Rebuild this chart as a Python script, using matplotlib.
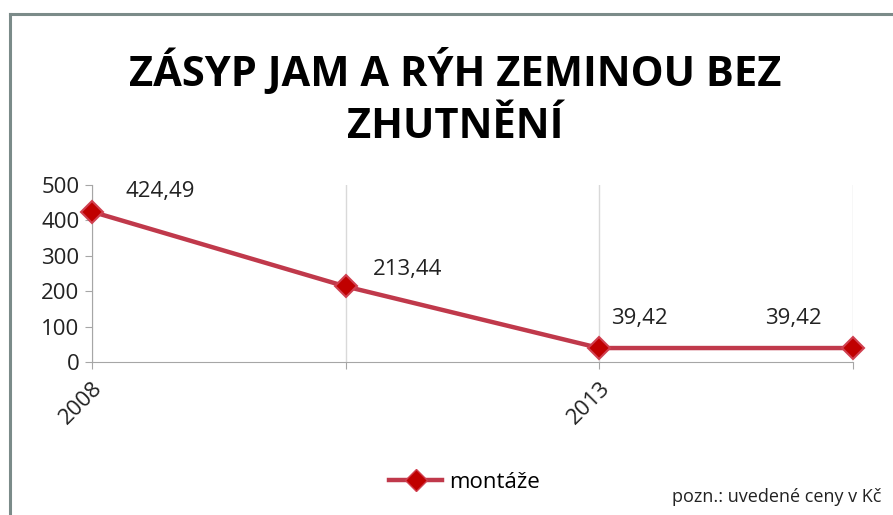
import matplotlib.pyplot as plt
from matplotlib.lines import Line2D

years = ["2008", "", "2013", ""]
values = [424.49, 213.44, 39.42, 39.42]
value_labels = ["424,49", "213,44", "39,42", "39,42"]
y_ticks = [0, 100, 200, 300, 400, 500]
# label offsets from the point, in pixels (right, up)
label_offsets = [(33, 20), (27, 17), (12, 30), (-88, 30)]

plt.rcParams['font.family'] = ['Open Sans', 'DejaVu Sans']

fig = plt.figure(figsize=(8.93, 5.15), dpi=100)
# chart frame, cut off at right and bottom like the source
fig.add_artist(Line2D([10/893, 10/893], [0, 1 - 14/515], transform=fig.transFigure,
                      color="#7b8b89", lw=2.2))
fig.add_artist(Line2D([10/893, 1], [1 - 14/515, 1 - 14/515], transform=fig.transFigure,
                      color="#7b8b89", lw=2.2))

ax = fig.add_axes([92/893, 1 - 362/515, (853 - 92)/893, (362 - 185)/515])
x = list(range(len(values)))
ax.plot(x, values, color="#c0394b", lw=3.2, marker="D", markersize=11,
        markerfacecolor="#c00000", markeredgecolor="#d04050", markeredgewidth=1.5,
        clip_on=False, zorder=3)
for i, v in enumerate(values):
    dx, dy = label_offsets[i]
    ax.annotate(value_labels[i], (i, v), xytext=(dx * 0.72, dy * 0.72),
                textcoords="offset points", fontsize=16, color="#222222",
                va="center", ha="left")

ax.set_xlim(0, 3)
ax.set_ylim(0, 500)
ax.set_yticks(y_ticks)
ax.set_yticklabels([str(t) for t in y_ticks], fontsize=16)
ax.set_xticks(x)
ax.set_xticklabels(years, fontsize=16, rotation=45, ha="right", rotation_mode="anchor")
ax.grid(axis="x", color="#d9d9d9", lw=1)
ax.set_axisbelow(True)
for s in ["top", "right"]:
    ax.spines[s].set_visible(False)
for s in ["left", "bottom"]:
    ax.spines[s].set_color("#a6a6a6")
ax.tick_params(axis="both", color="#a6a6a6", length=5, labelcolor="#222222")
ax.tick_params(axis="x", pad=6)
ax.tick_params(axis="y", pad=4)

fig.text(0.51, 1 - 72/515, "ZÁSYP JAM A RÝH ZEMINOU BEZ", ha="center", va="center",
         fontsize=30, fontweight="bold", color="black")
fig.text(0.51, 1 - 127/515, "ZHUTNĚNÍ", ha="center", va="center",
         fontsize=30, fontweight="bold", color="black")

leg = fig.legend([Line2D([], [], color="#c0394b", lw=3.2, marker="D", markersize=11,
                         markerfacecolor="#c00000", markeredgecolor="#d04050")],
                 ["montáže"], loc="center", bbox_to_anchor=(0.52, 1 - 482/515),
                 frameon=False, fontsize=16, handlelength=2.4, handletextpad=0.3)

fig.text(0.987, 1 - 497/515, "pozn.: uvedené ceny v Kč", ha="right", va="center",
         fontsize=13, color="#222222")

fig.savefig("out.png", dpi=100)
